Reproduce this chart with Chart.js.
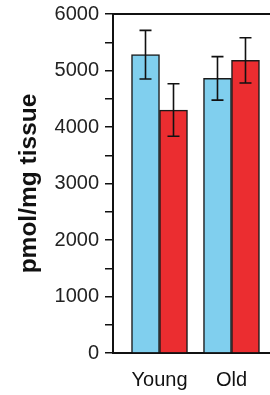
<!DOCTYPE html>
<html>
<head>
<meta charset="utf-8">
<script src="https://cdn.jsdelivr.net/npm/chart.js@4"></script>
<style>
  html, body { margin: 0; padding: 0; background: #fff; overflow: hidden; }
  #wrap { width: 270px; height: 395px; }
</style>
</head>
<body>
<div id="wrap"><canvas id="chart" width="270" height="395"></canvas></div>
<script>
const groups = ['Young', 'Old'];
const blueValues = [5280, 4860];
const blueErrors = [430, 385];
const redValues = [4300, 5180];
const redErrors = [465, 400];
const yTicks = [0, 1000, 2000, 3000, 4000, 5000, 6000];

const FONT = 'Liberation Sans, Arial, Helvetica, sans-serif';

// Chart.js has no error bars, so draw them from the y scale
const errorBars = {
  id: 'errorBars',
  afterDatasetsDraw(chart) {
    const ctx = chart.ctx;
    const y = chart.scales.y;
    chart.data.datasets.forEach((ds, i) => {
      const meta = chart.getDatasetMeta(i);
      meta.data.forEach((bar, j) => {
        const v = ds.data[j].y;
        const e = ds.errors[j];
        const top = y.getPixelForValue(v + e);
        const bot = y.getPixelForValue(v - e);
        ctx.save();
        ctx.strokeStyle = '#111';
        ctx.lineWidth = 1.6;
        ctx.beginPath();
        ctx.moveTo(bar.x, top);
        ctx.lineTo(bar.x, bot);
        ctx.moveTo(bar.x - 6, top);
        ctx.lineTo(bar.x + 6, top);
        ctx.moveTo(bar.x - 6, bot);
        ctx.lineTo(bar.x + 6, bot);
        ctx.stroke();
        ctx.restore();
      });
    });
  }
};

const ctx = document.getElementById('chart').getContext('2d');
new Chart(ctx, {
  type: 'bar',
  data: {
    datasets: [
      {
        label: 'Group 1',
        data: blueValues.map((v, i) => ({ x: i, y: v })),
        errors: blueErrors,
        backgroundColor: '#80cfee',
        borderColor: '#1a1a1a',
        borderWidth: 1.5,
        barThickness: 28
      },
      {
        label: 'Group 2',
        data: redValues.map((v, i) => ({ x: i, y: v })),
        errors: redErrors,
        backgroundColor: '#eb2d30',
        borderColor: '#1a1a1a',
        borderWidth: 1.5,
        barThickness: 28
      }
    ]
  },
  options: {
    responsive: false,
    animation: false,
    layout: { padding: { top: 14, right: 0, bottom: 0, left: 0 } },
    plugins: {
      legend: { display: false },
      tooltip: { enabled: false }
    },
    scales: {
      x: {
        type: 'linear',
        position: 'bottom',
        offset: false,
        min: -0.646,
        max: 1.535,
        afterBuildTicks: (s) => { s.ticks = groups.map((g, i) => ({ value: i })); },
        afterFit: (s) => { s.height = 42; s.paddingLeft = 0; s.paddingRight = 0; },
        grid: { display: false, drawTicks: false },
        border: { display: true, color: '#111', width: 2 },
        ticks: {
          padding: 15,
          color: '#111',
          font: { family: FONT, size: 20 },
          callback: (v) => groups[v]
        }
      },
      xTop: {
        type: 'linear',
        position: 'top',
        offset: false,
        min: -0.646,
        max: 1.535,
        afterFit: (s) => { s.height = 0; },
        grid: { display: false, drawTicks: false },
        border: { display: true, color: '#111', width: 2 },
        ticks: { display: false }
      },
      y: {
        min: 0,
        max: 6000,
        afterFit: (s) => { s.width = 113; s.paddingTop = 0; s.paddingBottom = 0; },
        afterBuildTicks: (s) => {
          const t = [];
          for (let v = 0; v <= 6000; v += 500) t.push({ value: v });
          s.ticks = t;
        },
        grid: { display: true, drawOnChartArea: false, drawTicks: true, tickLength: 8, color: '#111', lineWidth: 1.5 },
        border: { display: true, color: '#111', width: 2 },
        ticks: {
          padding: 6,
          color: '#222',
          font: { family: FONT, size: 20 },
          callback: (v) => (yTicks.includes(v) ? String(v) : '')
        },
        title: {
          display: true,
          text: 'pmol/mg tissue',
          color: '#111',
          padding: { top: 15, bottom: 0 },
          font: { family: FONT, size: 24.5, weight: 'bold' }
        }
      }
    }
  },
  plugins: [errorBars]
});
</script>
</body>
</html>
